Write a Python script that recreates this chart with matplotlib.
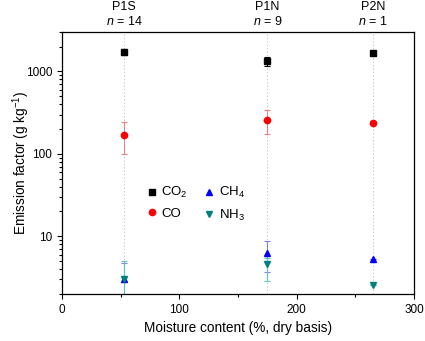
import matplotlib
matplotlib.use("Agg")
import matplotlib.pyplot as plt
from matplotlib.ticker import FixedLocator, LogLocator, FuncFormatter, NullFormatter

plt.rcParams['font.family'] = ['Liberation Sans', 'DejaVu Sans']
plt.rcParams['mathtext.fontset'] = 'custom'
plt.rcParams['mathtext.rm'] = 'Liberation Sans'
plt.rcParams['mathtext.it'] = 'Liberation Sans:italic'

# sites and moisture content (% dry basis)
sites = ['P1S', 'P1N', 'P2N']
site_n = [14, 9, 1]
moisture = [53, 175, 265]

# emission factors (g/kg), with lower / upper error bar ends
co2 = [1720, 1340, 1670]
co2_lo = [1600, 1160, 1670]
co2_hi = [1850, 1510, 1670]

co = [170, 255, 235]
co_lo = [100, 175, 235]
co_hi = [245, 340, 235]

ch4 = [3.0, 6.3, 5.3]
ch4_lo = [1.5, 3.7, 5.3]
ch4_hi = [4.8, 8.8, 5.3]

nh3 = [3.0, 4.6, 2.6]
nh3_lo = [1.0, 2.9, 2.6]
nh3_hi = [5.0, 5.5, 2.6]

fig = plt.figure(figsize=(4.25, 3.41), dpi=100)
ax = fig.add_axes([0.146, 0.138, 0.828, 0.768])

for x in moisture:
    ax.axvline(x, color='#c8c8c8', lw=0.7, ls=(0, (1.5, 2)), zorder=0)

series = [
    (co2, co2_lo, co2_hi, 's', 'black', 'black', 'CO$_2$'),
    (co, co_lo, co_hi, 'o', 'red', '#f08080', 'CO'),
    (ch4, ch4_lo, ch4_hi, '^', 'blue', '#7f7fff', 'CH$_4$'),
    (nh3, nh3_lo, nh3_hi, 'v', '#008080', '#66c2c2', 'NH$_3$'),
]
handles = []
for vals, lo, hi, mk, col, ecol, lab in series:
    err = [[v - l for v, l in zip(vals, lo)], [h - v for v, h in zip(vals, hi)]]
    ax.errorbar(moisture, vals, yerr=err, fmt='none', ecolor=ecol, elinewidth=0.8,
                capsize=2.5, capthick=0.8, zorder=2)
    h, = ax.plot(moisture, vals, ls='none', marker=mk, color=col, ms=4.5,
                 mec=col, label=lab, zorder=3)
    handles.append(h)

ax.set_yscale('log')
ax.set_xlim(0, 300)
ax.set_ylim(2, 3000)
ax.xaxis.set_major_locator(FixedLocator([0, 100, 200, 300]))
ax.xaxis.set_minor_locator(FixedLocator([50, 150, 250]))
ax.yaxis.set_major_locator(FixedLocator([10, 100, 1000]))
ax.yaxis.set_minor_locator(LogLocator(base=10, subs=range(2, 10)))
ax.yaxis.set_major_formatter(FuncFormatter(lambda v, p: '%d' % v))
ax.yaxis.set_minor_formatter(NullFormatter())

ax.tick_params(which='both', direction='out', labelsize=8.5, width=0.8, top=False, right=False)
ax.tick_params(which='major', length=3.5)
ax.tick_params(which='minor', length=2)
for s in ax.spines.values():
    s.set_linewidth(0.9)

ax.set_xlabel('Moisture content (%, dry basis)', fontsize=9.8)
ax.set_ylabel('Emission factor (g kg$^{-1}$)', fontsize=9.8)
ax.yaxis.set_label_coords(-0.085, 0.5)

for x, name, n in zip(moisture, sites, site_n):
    ax.text(x, 1.095, name, transform=ax.get_xaxis_transform(), ha='center', va='center', fontsize=9)
    ax.text(x, 1.040, '$n$ = %d' % n, transform=ax.get_xaxis_transform(), ha='center', va='center', fontsize=9)

ax.legend(handles=handles, ncol=2, frameon=False,
          fontsize=9.5, loc='upper left', bbox_to_anchor=(0.2, 0.46), handletextpad=0.1,
          columnspacing=1.0, handlelength=1.2, labelspacing=0.55)

fig.savefig('out.png', dpi=100)
